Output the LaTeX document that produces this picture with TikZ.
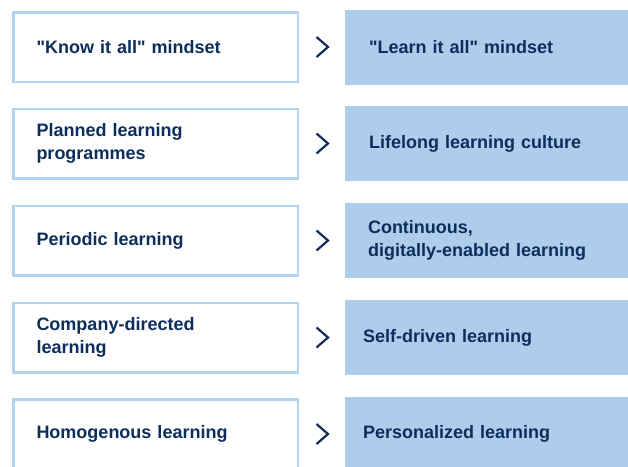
\documentclass[tikz,border=0pt]{standalone}
\usepackage{fontspec}
\setmainfont{Liberation Sans}[Ligatures=TeXOff]
\usetikzlibrary{calc}
\definecolor{navy}{HTML}{0C2E5C}
\definecolor{lightline}{HTML}{B4D3F0}
\definecolor{bluefill}{HTML}{ADCDEB}
\tikzset{
  oldbox/.style={draw=lightline, line width=2.5pt, fill=white, rectangle,
    minimum width=284.5pt, minimum height=69.5pt, text width=238pt,
    inner xsep=23pt, inner ysep=0pt, align=left, text=navy,
    font=\fontsize{18}{23.5}\selectfont\bfseries},
  newbox/.style={fill=bluefill, rectangle,
    minimum width=283pt, minimum height=75pt, text width=#1,
    inner xsep=0pt, inner ysep=0pt, align=left, text=navy,
    font=\fontsize{18}{23.5}\selectfont\bfseries},
  chev/.style={draw=navy, line width=2.2pt, line cap=butt, line join=miter}
}
\begin{document}
\begin{tikzpicture}[x=1pt,y=-1pt]
\useasboundingbox (0,0) rectangle (628,466);
\foreach \i/\c/\lt/\rt/\pad in {
  1/47/{"Know it all" mindset}/{"Learn it all" mindset}/24,
  2/143.5/{Planned learning\\programmes}/{Lifelong learning culture}/24,
  3/240.5/{Periodic learning}/{Continuous,\\digitally-enabled learning}/23,
  4/337.5/{Company-directed\\learning}/{Self-driven learning}/18,
  5/434/{Homogenous learning}/{Personalized learning}/18}{
  \node[oldbox] (l\i) at (155.5,\c) {\lt};
  \pgfmathsetmacro{\tw}{283-2*\pad}
  \node[newbox=\tw pt] (r\i) at (486.5,\c) {\rt};
  \draw[chev] ($(l\i.east)+(17.5,-10)$) -- ($(l\i.east)+(29,0)$) -- ($(l\i.east)+(17.5,10)$);
}
\end{tikzpicture}
\end{document}
